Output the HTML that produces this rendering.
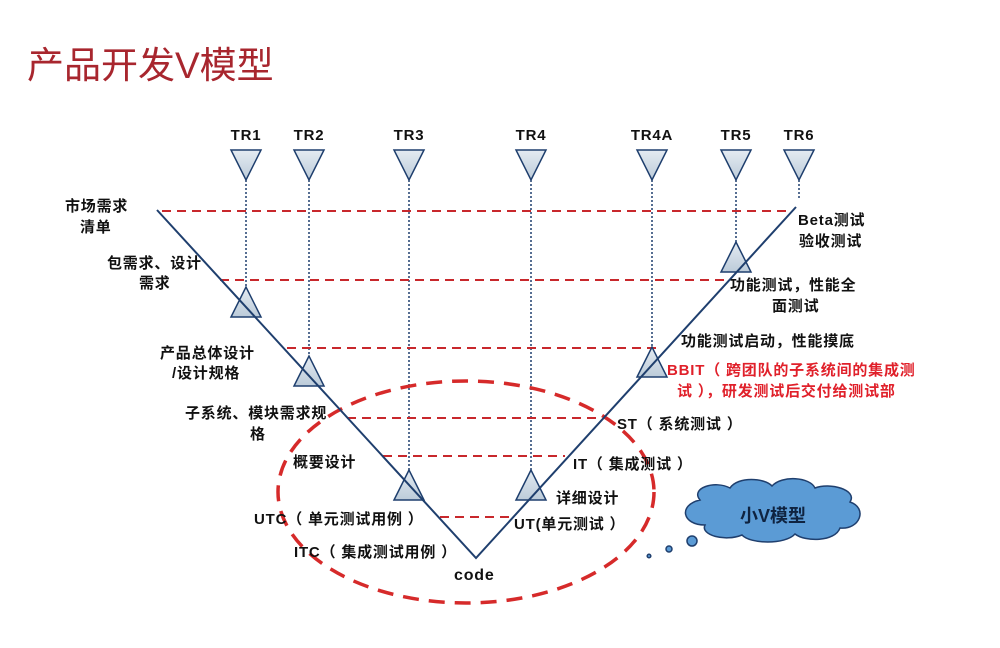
<!DOCTYPE html>
<html><head><meta charset="utf-8"><style>
html,body{margin:0;padding:0;background:#fff;}
svg{display:block;}
text{font-family:"Liberation Sans","Noto Sans CJK SC",sans-serif;font-weight:bold;font-size:15px;letter-spacing:0.8px;fill:#111;}
</style></head><body>
<svg width="1000" height="648" viewBox="0 0 1000 648" xmlns="http://www.w3.org/2000/svg">
<defs>
<linearGradient id="g" x1="0" y1="0" x2="0" y2="1"><stop offset="0" stop-color="#e4ebf2"/><stop offset="1" stop-color="#bccbd9"/></linearGradient>
</defs>
<text x="27" y="78" style="font-size:37px;font-weight:normal;letter-spacing:0;fill:#a8262e">产品开发V模型</text>

<!-- TR labels -->
<g text-anchor="middle">
<text x="246" y="140">TR1</text><text x="309" y="140">TR2</text><text x="409" y="140">TR3</text>
<text x="531" y="140">TR4</text><text x="652" y="140">TR4A</text><text x="736" y="140">TR5</text><text x="799" y="140">TR6</text>
</g>

<!-- dotted verticals -->
<g stroke="#1f3f6e" stroke-width="1.5" stroke-dasharray="2,2">
<line x1="246" y1="180" x2="246" y2="290"/>
<line x1="309" y1="180" x2="309" y2="360"/>
<line x1="409" y1="180" x2="409" y2="472"/>
<line x1="531" y1="180" x2="531" y2="472"/>
<line x1="652" y1="180" x2="652" y2="350"/>
<line x1="736" y1="180" x2="736" y2="245"/>
<line x1="799" y1="180" x2="799" y2="200"/>
</g>

<!-- red dashed horizontals -->
<g stroke="#c8282c" stroke-width="2" stroke-dasharray="9,6">
<line x1="162" y1="211" x2="790" y2="211"/>
<line x1="220" y1="280" x2="728" y2="280"/>
<line x1="287" y1="348" x2="660" y2="348"/>
<line x1="347" y1="418" x2="600" y2="418"/>
<line x1="383" y1="456" x2="565" y2="456"/>
<line x1="440" y1="517" x2="510" y2="517"/>
</g>

<!-- ellipse -->
<ellipse cx="466" cy="492" rx="188" ry="111" fill="none" stroke="#d62a2a" stroke-width="3.5" stroke-dasharray="16,10"/>

<!-- triangles -->
<g fill="url(#g)" stroke="#1f3f6e" stroke-width="1.5">
<polygon points="231,150 261,150 246,180"/>
<polygon points="294,150 324,150 309,180"/>
<polygon points="394,150 424,150 409,180"/>
<polygon points="516,150 546,150 531,180"/>
<polygon points="637,150 667,150 652,180"/>
<polygon points="721,150 751,150 736,180"/>
<polygon points="784,150 814,150 799,180"/>
<polygon points="246,287 231,317 261,317"/>
<polygon points="309,356 294,386 324,386"/>
<polygon points="409,470 394,500 424,500"/>
<polygon points="531,470 516,500 546,500"/>
<polygon points="652,347 637,377 667,377"/>
<polygon points="736,242 721,272 751,272"/>
</g>

<!-- V -->
<polyline points="157,210 476,558 796,207" fill="none" stroke="#1f3f6e" stroke-width="2"/>

<!-- left labels -->
<text x="65" y="211">市场需求</text><text x="80" y="232">清单</text>
<text x="107" y="268">包需求、设计</text><text x="139" y="288">需求</text>
<text x="160" y="358">产品总体设计</text><text x="172" y="378">/设计规格</text>
<text x="185" y="418">子系统、模块需求规</text><text x="250" y="439">格</text>
<text x="293" y="467">概要设计</text>
<text x="254" y="524">UTC（ 单元测试用例 ）</text>
<text x="294" y="557">ITC（ 集成测试用例 ）</text>
<text x="454" y="580" style="font-size:16px">code</text>

<!-- right labels -->
<text x="514" y="529">UT(单元测试 ）</text>
<text x="556" y="503">详细设计</text>
<text x="573" y="469">IT（ 集成测试 ）</text>
<text x="617" y="429">ST（ 系统测试 ）</text>
<text x="667" y="375" style="fill:#e0202a">BBIT（ 跨团队的子系统间的集成测</text>
<text x="677" y="396" style="fill:#e0202a">试 ），研发测试后交付给测试部</text>
<text x="681" y="346">功能测试启动，性能摸底</text>
<text x="730" y="290">功能测试，性能全</text><text x="772" y="311">面测试</text>
<text x="798" y="225">Beta测试</text><text x="799" y="246">验收测试</text>

<!-- cloud -->
<g fill="#5b9bd5" stroke="#1f3f6e" stroke-width="1.5">
<path d="M700,500 C690,488 715,480 730,488 C738,476 765,478 772,486 C782,475 810,477 815,488 C830,482 858,490 850,502 C868,508 860,530 840,528 C835,542 805,542 795,534 C785,545 750,544 742,535 C725,542 700,535 705,525 C682,525 678,505 700,500 Z"/>
<circle cx="692" cy="541" r="5"/>
<circle cx="669" cy="549" r="3"/>
<circle cx="649" cy="556" r="1.8"/>
</g>
<text x="773" y="522" text-anchor="middle" style="font-size:18px;letter-spacing:0;fill:#0f2340">小V模型</text>
</svg>
</body></html>
